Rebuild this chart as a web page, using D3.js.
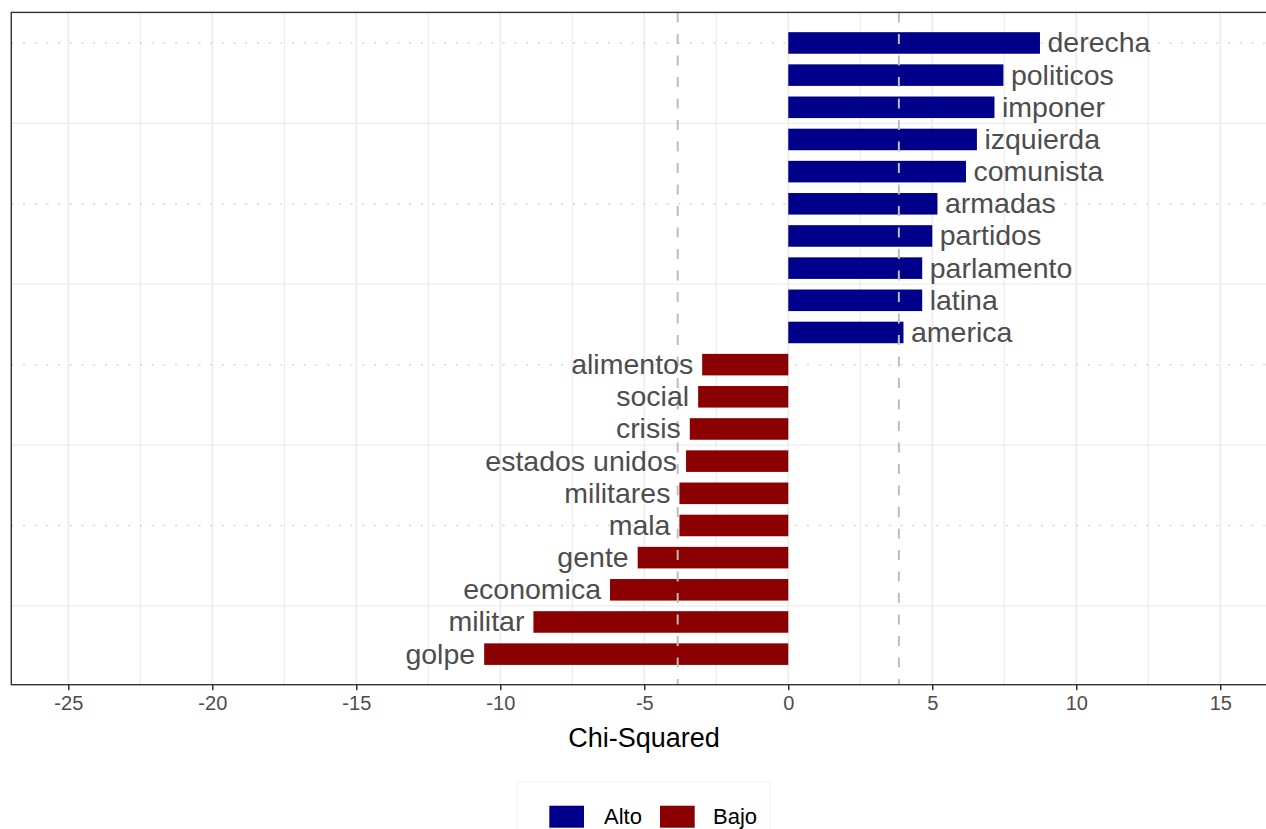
<!DOCTYPE html>
<html>
<head>
<meta charset="utf-8">
<script src="https://cdn.jsdelivr.net/npm/d3@7"></script>
<style>
  html, body { margin: 0; padding: 0; background: #fff; }
  svg { display: block; font-family: "Liberation Sans", Arial, Helvetica, sans-serif; }
</style>
</head>
<body>
<svg id="chart" width="1266" height="829"></svg>
<script>
// ---- data (top to bottom) ----
const words = ["derecha","politicos","imponer","izquierda","comunista","armadas","partidos","parlamento","latina","america",
               "alimentos","social","crisis","estados unidos","militares","mala","gente","economica","militar","golpe"];
const chiValues = [8.74, 7.47, 7.16, 6.55, 6.17, 5.18, 5.0, 4.65, 4.65, 4.0,
                   -2.99, -3.13, -3.42, -3.55, -3.78, -3.78, -5.23, -6.19, -8.85, -10.56];
const groups = ["Alto","Alto","Alto","Alto","Alto","Alto","Alto","Alto","Alto","Alto",
                "Bajo","Bajo","Bajo","Bajo","Bajo","Bajo","Bajo","Bajo","Bajo","Bajo"];
const legendLabels = ["Alto", "Bajo"];
const groupColors = ["#00008B", "#8B0000"];
const xTicks = [-25, -20, -15, -10, -5, 0, 5, 10, 15];
const xMinorTicks = [-22.5, -17.5, -12.5, -7.5, -2.5, 2.5, 7.5, 12.5];
const criticalValues = [-3.84, 3.84];
const yMajor = [5, 10, 15, 20];
const yMinor = [2.5, 7.5, 12.5, 17.5];
const xTitle = "Chi-Squared";

const data = words.map((w, i) => ({ word: w, value: chiValues[i], group: groups[i], pos: words.length - i }));

// ---- layout ----
const svg = d3.select("#chart");
const panel = { left: 11.3, right: 1276.7, top: 12.4, bottom: 684.7 };

const x = d3.scaleLinear().domain([-26.98, 16.96]).range([panel.left, panel.right]);
const y = d3.scaleLinear().domain([1 - 0.95, 20 + 0.95]).range([panel.bottom, panel.top]);
const color = d3.scaleOrdinal().domain(legendLabels).range(groupColors);
const step = Math.abs(y(1) - y(2));
const barH = step * 0.67;

// clip for panel contents
svg.append("defs").append("clipPath").attr("id", "clip")
  .append("rect").attr("x", panel.left).attr("y", panel.top)
  .attr("width", panel.right - panel.left).attr("height", panel.bottom - panel.top);

const g = svg.append("g").attr("clip-path", "url(#clip)");

// grid
g.selectAll(".vminor").data(xMinorTicks).join("line")
  .attr("x1", d => x(d)).attr("x2", d => x(d))
  .attr("y1", panel.top).attr("y2", panel.bottom)
  .attr("stroke", "#ededed").attr("stroke-width", 1.3);
g.selectAll(".vmajor").data(xTicks).join("line")
  .attr("x1", d => x(d)).attr("x2", d => x(d))
  .attr("y1", panel.top).attr("y2", panel.bottom)
  .attr("stroke", "#ebebeb").attr("stroke-width", 1.6);
g.selectAll(".hminor").data(yMinor).join("line")
  .attr("x1", panel.left).attr("x2", panel.right)
  .attr("y1", d => y(d)).attr("y2", d => y(d))
  .attr("stroke", "#ececec").attr("stroke-width", 1.3);
g.selectAll(".hmajor").data(yMajor).join("line")
  .attr("x1", panel.left).attr("x2", panel.right)
  .attr("y1", d => y(d)).attr("y2", d => y(d))
  .attr("stroke", "#d6d6d6").attr("stroke-width", 1.5)
  .attr("stroke-dasharray", "2,9.7");

// bars
g.selectAll(".bar").data(data).join("rect")
  .attr("x", d => x(Math.min(0, d.value)))
  .attr("width", d => Math.abs(x(d.value) - x(0)))
  .attr("y", d => y(d.pos) - barH / 2)
  .attr("height", barH)
  .attr("fill", d => color(d.group));

// critical value dashed lines
g.selectAll(".crit").data(criticalValues).join("line")
  .attr("x1", d => x(d)).attr("x2", d => x(d))
  .attr("y1", panel.top).attr("y2", panel.bottom)
  .attr("stroke", "#bdbdbd").attr("stroke-width", 2)
  .attr("stroke-dasharray", "10,11.5");

// labels
svg.append("g").selectAll("text").data(data).join("text")
  .attr("x", d => d.value >= 0 ? x(d.value) + 7.5 : x(d.value) - 9)
  .attr("y", d => y(d.pos))
  .attr("dy", "0.33em")
  .attr("text-anchor", d => d.value >= 0 ? "start" : "end")
  .attr("font-size", 28.5)
  .attr("fill", "#4d4d4d")
  .text(d => d.word);

// panel border
svg.append("rect")
  .attr("x", panel.left).attr("y", panel.top)
  .attr("width", panel.right - panel.left).attr("height", panel.bottom - panel.top)
  .attr("fill", "none").attr("stroke", "#333333").attr("stroke-width", 1.4);

// x axis
const xAxis = d3.axisBottom(x).tickValues(xTicks).tickSize(5.5).tickPadding(6)
  .tickFormat(d => d < 0 ? "-" + Math.abs(d) : String(d));
const ax = svg.append("g").attr("transform", `translate(0,${panel.bottom})`).call(xAxis);
ax.select(".domain").remove();
ax.selectAll(".tick line").attr("stroke", "#333333").attr("stroke-width", 1.5);
ax.selectAll(".tick text").attr("fill", "#4d4d4d").attr("font-size", 20)
  .attr("font-family", "Liberation Sans, Arial, sans-serif");

// axis title
svg.append("text")
  .attr("x", (panel.left + panel.right) / 2).attr("y", 746.5)
  .attr("text-anchor", "middle").attr("font-size", 27).attr("fill", "#000")
  .text(xTitle);

// legend
const lg = svg.append("g");
lg.append("rect").attr("x", 517).attr("y", 781.7).attr("width", 253).attr("height", 80)
  .attr("fill", "#fff").attr("stroke", "#f0f0f0").attr("stroke-width", 1);
const keyX = [549.3, 660];
const textX = [604, 713];
legendLabels.forEach((lab, i) => {
  lg.append("rect").attr("x", keyX[i]).attr("y", 805.7).attr("width", 34.7).attr("height", 22)
    .attr("fill", color(lab));
  lg.append("text").attr("x", textX[i]).attr("y", 816.7).attr("dy", "0.35em")
    .attr("font-size", 22).attr("fill", "#000").text(lab);
});
</script>
</body>
</html>
